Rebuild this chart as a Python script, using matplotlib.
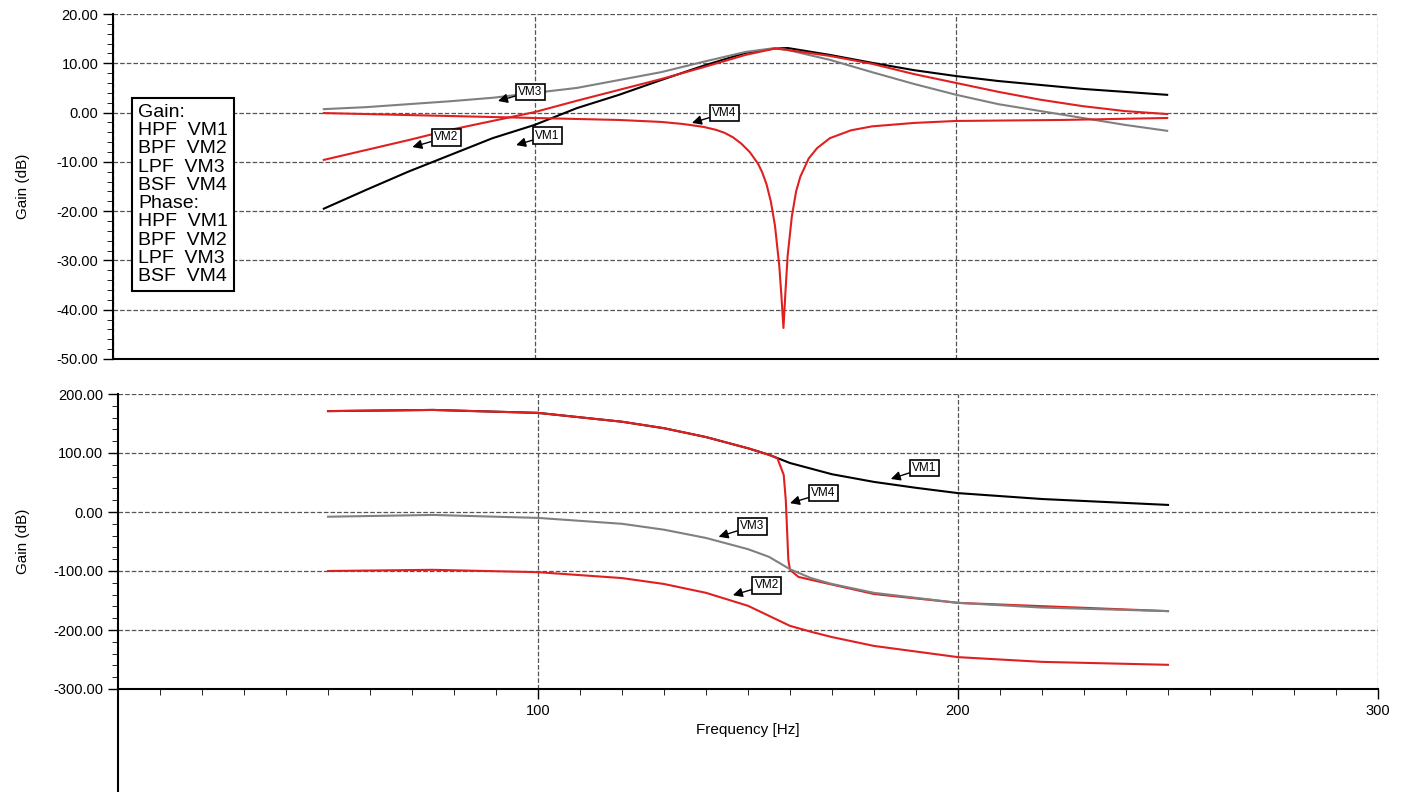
import numpy as np
import matplotlib.pyplot as plt
from matplotlib.ticker import MultipleLocator, FormatStrFormatter

plt.rcParams['font.family'] = ['Liberation Sans', 'DejaVu Sans']

# gain curves
f_g = [50, 60, 70, 80, 90, 100, 110, 120, 130, 140, 150, 157, 160, 170, 180, 190, 200, 210, 220, 230, 240, 250]
vm1_gain = [-19.5, -15.7, -12, -8.6, -5.2, -2.5, 0.9, 3.6, 6.6, 9.5, 12.1, 13.0, 13.1, 11.7, 10.1, 8.6, 7.4, 6.4, 5.6, 4.8, 4.2, 3.6]
vm2_gain = [-9.6, -7.6, -5.6, -3.5, -1.7, 0.1, 2.4, 4.6, 6.8, 9.2, 11.7, 13.0, 12.7, 11.5, 9.9, 7.8, 6.0, 4.2, 2.6, 1.3, 0.3, -0.3]
vm3_gain = [0.7, 1.1, 1.7, 2.3, 3.0, 4.0, 5.0, 6.6, 8.2, 10.3, 12.3, 13.1, 12.7, 10.7, 8.2, 5.8, 3.6, 1.7, 0.3, -1.1, -2.5, -3.7]
f_bsf = [50, 80, 100, 120, 130, 135, 140, 143, 145, 147, 149, 151, 153, 154, 155, 156, 157, 158, 158.5, 159, 159.5, 160, 161, 162, 163, 165, 167, 170, 175, 180, 190, 200, 225, 250]
vm4_gain = [-0.1, -0.7, -1.1, -1.5, -1.9, -2.3, -2.9, -3.5, -4.1, -5.0, -6.3, -8.0, -10.4, -12.2, -14.6, -18.0, -23.0, -31.0, -37.0, -43.7, -36.0, -29.0, -21.0, -16.0, -13.0, -9.3, -7.2, -5.2, -3.6, -2.8, -2.1, -1.7, -1.5, -1.1]

# phase curves
f_p1 = [50, 75, 100, 120, 130, 140, 150, 155, 160, 170, 180, 190, 200, 220, 250]
vm1_phase = [171, 173, 168, 153, 142, 127, 108, 97, 83, 64, 51, 41, 32, 22, 12]
f_p4 = [50, 75, 100, 120, 130, 140, 150, 155, 157, 158.5, 159, 159.3, 159.6, 160, 162, 165, 180, 200, 250]
vm4_phase = [171, 173, 168, 153, 142, 127, 108, 97, 91, 63, 20, -30, -81, -98, -110, -115, -139, -154, -168]
f_p = [50, 75, 100, 120, 130, 140, 150, 155, 160, 165, 170, 180, 200, 220, 250]
vm3_phase = [-8, -5, -10, -20, -30, -44, -63, -76, -97, -112, -122, -137, -154, -162, -168]
vm2_phase = [-100, -98, -102, -112, -122, -137, -159, -176, -193, -203, -212, -227, -246, -254, -259]

fig = plt.figure(figsize=(14.24, 7.92), dpi=100)
W, H = 1424, 792
ax1 = fig.add_axes([113 / W, 1 - 359 / H, (1378 - 113) / W, (359 - 14) / H])
ax2 = fig.add_axes([118 / W, 1 - 689 / H, (1378 - 118) / W, (689 - 394) / H])

grey = '#808080'
red = '#e02020'

ax1.plot(f_g, vm1_gain, color='black', lw=1.5)
ax1.plot(f_g, vm3_gain, color=grey, lw=1.5)
ax1.plot(f_g, vm2_gain, color=red, lw=1.5)
ax1.plot(f_bsf, vm4_gain, color=red, lw=1.5)

ax2.plot(f_p1, vm1_phase, color='black', lw=1.5)
ax2.plot(f_p4, vm4_phase, color=red, lw=1.5)
ax2.plot(f_p, vm3_phase, color=grey, lw=1.5)
ax2.plot(f_p, vm2_phase, color=red, lw=1.5)

for ax, lo, hi, step in [(ax1, -50, 20, 10), (ax2, -300, 200, 100)]:
    ax.set_xlim(0, 300)
    ax.set_ylim(lo, hi)
    ax.xaxis.set_major_locator(MultipleLocator(100))
    ax.xaxis.set_minor_locator(MultipleLocator(10))
    ax.yaxis.set_major_locator(MultipleLocator(step))
    ax.yaxis.set_minor_locator(MultipleLocator(step / 5))
    ax.yaxis.set_major_formatter(FormatStrFormatter('%.2f'))
    ax.grid(True, which='major', ls='--', color='#555555', lw=0.9)
    ax.spines['top'].set_visible(False)
    ax.spines['right'].set_visible(False)
    ax.spines['left'].set_linewidth(1.5)
    ax.spines['bottom'].set_linewidth(1.5)
    ax.tick_params(which='major', length=7, width=1, labelsize=10.5)
    ax.tick_params(which='minor', length=4)
    ax.set_ylabel('Gain (dB)', fontsize=11)

ax1.set_xticklabels([])
ax1.tick_params(axis='x', which='both', length=0)
ax2.set_xticks([100, 200, 300])
ax2.set_xlabel('Frequency [Hz]', fontsize=11)
ax1.yaxis.set_label_coords(-0.066, 0.5)
ax2.yaxis.set_label_coords(-0.07, 0.5)

# extended left spine of lower axes
fig.add_artist(plt.Line2D([118 / W, 118 / W], [0, 1 - 689 / H], color='black', lw=1.5))

legend_text = 'Gain:\nHPF  VM1\nBPF  VM2\nLPF  VM3\nBSF  VM4\nPhase:\nHPF  VM1\nBPF  VM2\nLPF  VM3\nBSF  VM4'
ax1.text(0.02, 0.74, legend_text, transform=ax1.transAxes, fontsize=14, va='top', ha='left',
         linespacing=1.1, bbox=dict(boxstyle='square,pad=0.3', fc='white', ec='black', lw=1.5))

box = dict(boxstyle='square,pad=0.2', fc='white', ec='black', lw=1.2)
arr = dict(arrowstyle='-|>', color='black', lw=1, mutation_scale=14, shrinkA=0, shrinkB=0)
notes1 = [('VM3', (91.3, 2.35), (98.9, 4.2)), ('VM2', (71, -7), (79, -5)),
          ('VM1', (95.6, -6.6), (103, -4.7)), ('VM4', (137.3, -2.1), (145, -0.1))]
notes2 = [('VM1', (184, 56), (192, 74.6)), ('VM4', (160, 15), (168, 32)),
          ('VM3', (143, -42), (151, -24)), ('VM2', (146.4, -141), (154.5, -124))]
for ax, notes in [(ax1, notes1), (ax2, notes2)]:
    for lab, tip, pos in notes:
        ax.annotate(lab, xy=tip, xytext=pos, fontsize=8.5, ha='center', va='center',
                    bbox=box, arrowprops=arr)

fig.savefig('out.png', dpi=100)
